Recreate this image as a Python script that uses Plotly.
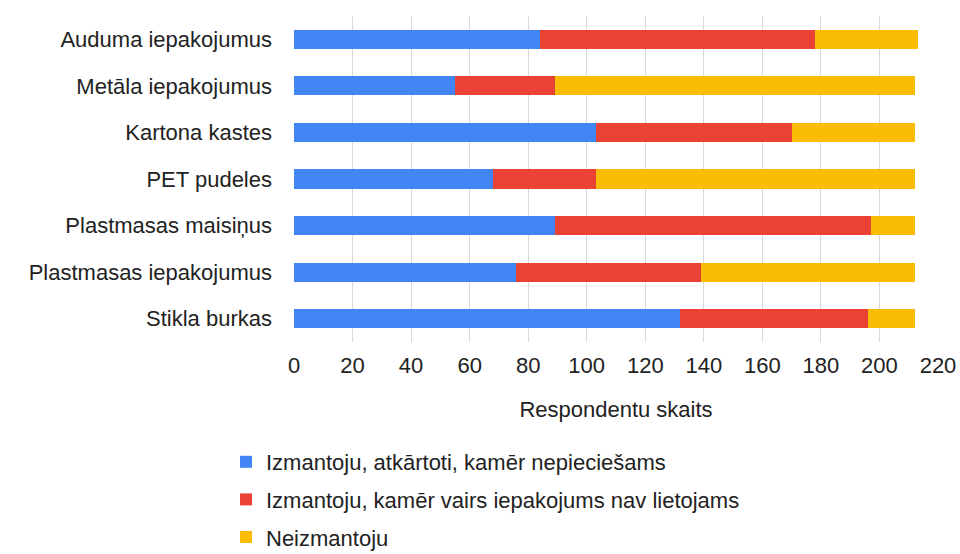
import plotly.graph_objects as go

categories = ["Auduma iepakojumus", "Metāla iepakojumus", "Kartona kastes", "PET pudeles",
              "Plastmasas maisiņus", "Plastmasas iepakojumus", "Stikla burkas"]
reuse_needed = [84, 55, 103, 68, 89, 76, 132]
reuse_until = [94, 34, 67, 35, 108, 63, 64]
not_used = [35, 123, 42, 109, 15, 73, 16]
series_names = ["Izmantoju, atkārtoti, kamēr nepieciešams",
                "Izmantoju, kamēr vairs iepakojums nav lietojams",
                "Neizmantoju"]
colors = ["#4285F4", "#EA4335", "#FBBC04"]
x_ticks = list(range(0, 221, 20))

FONT = "Liberation Sans, Arial, sans-serif"
FS = 22
TXT = "#222222"
fig = go.Figure()
for i, (name, vals, col) in enumerate(zip(series_names, [reuse_needed, reuse_until, not_used], colors)):
    fig.add_trace(go.Bar(y=categories, x=vals, name=name, orientation="h",
                         marker=dict(color=col, line=dict(width=0)),
                         legendgroup=f"g{i}"))

W, H = 960, 554
L, R, T, B = 294, 22, 15.6, 211.6
fig.update_layout(
    width=W, height=H, barmode="stack", bargap=0.59,
    margin=dict(l=L, r=R, t=T, b=B, pad=0, autoexpand=False),
    paper_bgcolor="white", plot_bgcolor="white",
    font=dict(family=FONT, size=FS, color=TXT),
    showlegend=True,
    legend=dict(orientation="v", xref="container", yref="container",
                x=226 / W, xanchor="left",
                y=1 - 441 / H, yanchor="top",
                traceorder="grouped", tracegroupgap=6,
                font=dict(family=FONT, size=FS, color=TXT),
                bgcolor="rgba(0,0,0,0)"),
    xaxis=dict(range=[0, 220], tickvals=x_ticks, ticktext=[str(v) for v in x_ticks],
               showgrid=True, gridcolor="#d9d9d9", gridwidth=1, zeroline=False,
               showline=False, ticks="", ticklabelstandoff=8, automargin=False,
               title=dict(text="Respondentu skaits", standoff=24,
                          font=dict(family=FONT, size=FS, color=TXT)),
               tickfont=dict(family=FONT, size=FS, color=TXT)),
    yaxis=dict(categoryorder="array", categoryarray=categories, range=[6.5, -0.5],
               showgrid=False, zeroline=False, showline=False, ticks="",
               ticklabelstandoff=21, automargin=False,
               tickfont=dict(family=FONT, size=FS, color=TXT)),
)
fig.write_html("out.html", config={"displayModeBar": False},
               post_script="document.body.style.margin='0';")
